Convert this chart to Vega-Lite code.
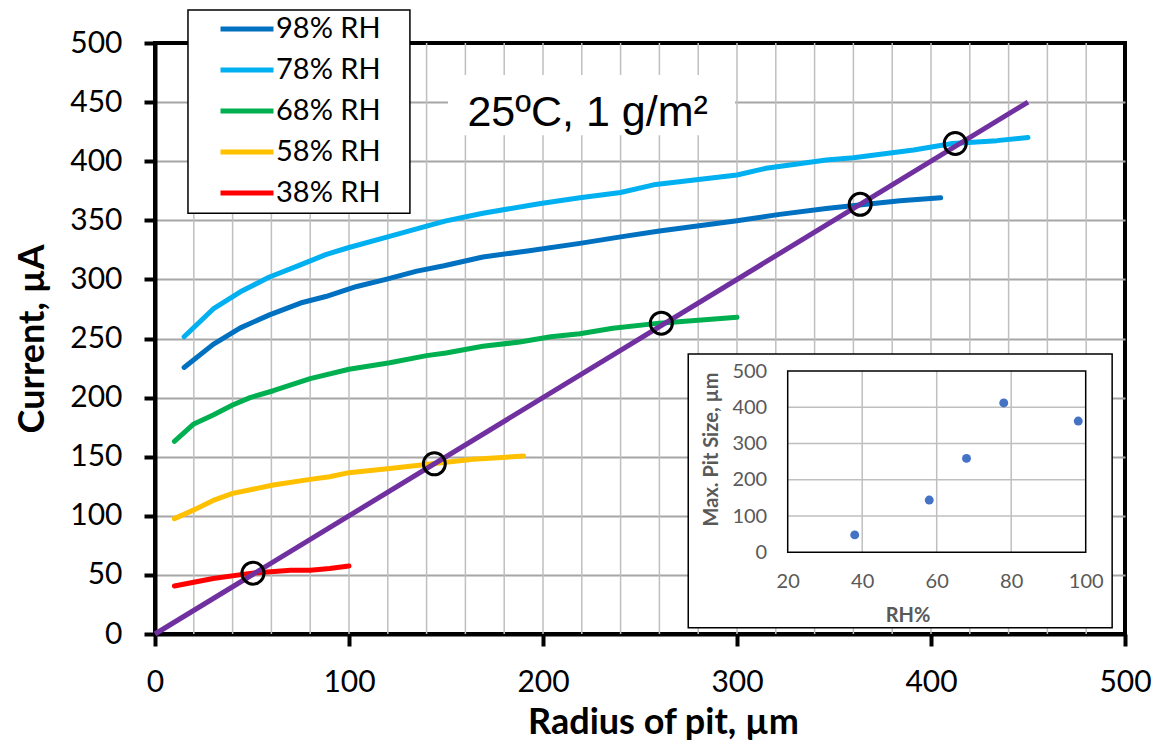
{
  "$schema": "https://vega.github.io/schema/vega-lite/v6.json",
  "width": 970,
  "height": 591,
  "autosize": {"type": "none"},
  "padding": {"left": 155, "top": 43, "right": 30, "bottom": 112},
  "background": "white",
  "config": {"view": {"stroke": "black", "strokeWidth": 4}, "font": "Lato"},
  "datasets": {
    "curves": [
      {"r": 15, "I": 225.5, "series": "98% RH"}, {"r": 30, "I": 245, "series": "98% RH"}, {"r": 44, "I": 259, "series": "98% RH"}, {"r": 59, "I": 270, "series": "98% RH"}, {"r": 75, "I": 280, "series": "98% RH"}, {"r": 88, "I": 285.5, "series": "98% RH"}, {"r": 104, "I": 294, "series": "98% RH"}, {"r": 119, "I": 300, "series": "98% RH"}, {"r": 135, "I": 307, "series": "98% RH"}, {"r": 149, "I": 311.5, "series": "98% RH"}, {"r": 169, "I": 319, "series": "98% RH"}, {"r": 192, "I": 324, "series": "98% RH"}, {"r": 219, "I": 330.5, "series": "98% RH"}, {"r": 240, "I": 336, "series": "98% RH"}, {"r": 260, "I": 341, "series": "98% RH"}, {"r": 300, "I": 349.7, "series": "98% RH"}, {"r": 322, "I": 355, "series": "98% RH"}, {"r": 346, "I": 360, "series": "98% RH"}, {"r": 363, "I": 363, "series": "98% RH"}, {"r": 384, "I": 366.6, "series": "98% RH"}, {"r": 405, "I": 369, "series": "98% RH"},
      {"r": 15, "I": 251.5, "series": "78% RH"}, {"r": 30, "I": 275, "series": "78% RH"}, {"r": 44, "I": 289.5, "series": "78% RH"}, {"r": 59, "I": 302, "series": "78% RH"}, {"r": 73, "I": 311, "series": "78% RH"}, {"r": 88, "I": 321, "series": "78% RH"}, {"r": 100, "I": 327, "series": "78% RH"}, {"r": 119, "I": 335.5, "series": "78% RH"}, {"r": 140, "I": 345, "series": "78% RH"}, {"r": 150, "I": 349.5, "series": "78% RH"}, {"r": 169, "I": 356, "series": "78% RH"}, {"r": 198, "I": 364, "series": "78% RH"}, {"r": 219, "I": 369, "series": "78% RH"}, {"r": 240, "I": 373.5, "series": "78% RH"}, {"r": 257, "I": 380, "series": "78% RH"}, {"r": 300, "I": 388.3, "series": "78% RH"}, {"r": 315, "I": 394, "series": "78% RH"}, {"r": 346, "I": 401, "series": "78% RH"}, {"r": 360, "I": 403, "series": "78% RH"}, {"r": 391, "I": 409.5, "series": "78% RH"}, {"r": 411, "I": 415, "series": "78% RH"}, {"r": 434, "I": 417.4, "series": "78% RH"}, {"r": 450, "I": 420, "series": "78% RH"},
      {"r": 10, "I": 163, "series": "68% RH"}, {"r": 20, "I": 177.7, "series": "68% RH"}, {"r": 30, "I": 185.3, "series": "68% RH"}, {"r": 40, "I": 193.7, "series": "68% RH"}, {"r": 49, "I": 200, "series": "68% RH"}, {"r": 61, "I": 205.8, "series": "68% RH"}, {"r": 80, "I": 216, "series": "68% RH"}, {"r": 100, "I": 224, "series": "68% RH"}, {"r": 121, "I": 229.5, "series": "68% RH"}, {"r": 140, "I": 235.5, "series": "68% RH"}, {"r": 150, "I": 237.8, "series": "68% RH"}, {"r": 169, "I": 243.5, "series": "68% RH"}, {"r": 188, "I": 247, "series": "68% RH"}, {"r": 204, "I": 251.5, "series": "68% RH"}, {"r": 219, "I": 254, "series": "68% RH"}, {"r": 236, "I": 258.6, "series": "68% RH"}, {"r": 260, "I": 263, "series": "68% RH"}, {"r": 300, "I": 268, "series": "68% RH"},
      {"r": 10, "I": 97.6, "series": "58% RH"}, {"r": 20, "I": 105, "series": "58% RH"}, {"r": 30, "I": 113, "series": "58% RH"}, {"r": 40, "I": 119, "series": "58% RH"}, {"r": 61, "I": 126, "series": "58% RH"}, {"r": 80, "I": 130.8, "series": "58% RH"}, {"r": 90, "I": 133, "series": "58% RH"}, {"r": 100, "I": 136.5, "series": "58% RH"}, {"r": 121, "I": 140, "series": "58% RH"}, {"r": 143, "I": 144, "series": "58% RH"}, {"r": 164, "I": 147.8, "series": "58% RH"}, {"r": 190, "I": 150.6, "series": "58% RH"},
      {"r": 10, "I": 40.6, "series": "38% RH"}, {"r": 30, "I": 47, "series": "38% RH"}, {"r": 50, "I": 51.5, "series": "38% RH"}, {"r": 70, "I": 54, "series": "38% RH"}, {"r": 80, "I": 54, "series": "38% RH"}, {"r": 90, "I": 55.5, "series": "38% RH"}, {"r": 100, "I": 57.5, "series": "38% RH"}
    ],
    "diag": [{"r": 0, "I": 0}, {"r": 450, "I": 450}],
    "pits": [{"r": 50.5, "I": 51.5}, {"r": 144, "I": 144}, {"r": 261, "I": 263}, {"r": 363.5, "I": 363.5}, {"r": 412.5, "I": 415}],
    "vgrid": [{"g": 20}, {"g": 40}, {"g": 60}, {"g": 80}, {"g": 100}, {"g": 120}, {"g": 140}, {"g": 160}, {"g": 180}, {"g": 200}, {"g": 220}, {"g": 240}, {"g": 260}, {"g": 280}, {"g": 300}, {"g": 320}, {"g": 340}, {"g": 360}, {"g": 380}, {"g": 400}, {"g": 420}, {"g": 440}, {"g": 460}, {"g": 480}],
    "inset": [{"rh": 38, "size": 48}, {"rh": 58, "size": 144}, {"rh": 68, "size": 259}, {"rh": 78, "size": 412}, {"rh": 98, "size": 362}],
    "igx": [{"g": 40}, {"g": 60}, {"g": 80}],
    "igy": [{"g": 100}, {"g": 200}, {"g": 300}, {"g": 400}],
    "one": [{}]
  },
  "layer": [
    {
      "layer": [
        {
          "data": {"name": "vgrid"},
          "mark": {"type": "rule", "color": "#bfbfbf", "strokeWidth": 1.5},
          "encoding": {
            "x": {"field": "g", "type": "quantitative", "scale": {"domain": [0, 500], "nice": false},
              "axis": {"title": "Radius of pit, µm", "values": [0, 100, 200, 300, 400, 500], "grid": false, "domainColor": "black", "domainWidth": 4, "tickColor": "black", "tickWidth": 4, "tickSize": 12, "labelFont": "Lato", "labelFontSize": 30, "labelColor": "black", "labelPadding": 21, "labelFlush": false, "labelOverlap": false, "titleFont": "Lato", "titleFontSize": 36, "titleFontWeight": "bold", "titleColor": "black", "titlePadding": 8, "titleX": 508}},
            "y": {"datum": 0, "type": "quantitative", "scale": {"domain": [0, 500], "nice": false},
              "axis": {"title": "Current, µA", "values": [0,50,100,150,200,250,300,350,400,450,500], "grid": true, "gridColor": "#a6a6a6", "gridWidth": 2, "gridOpacity": {"condition": {"test": "datum.value === 0 || datum.value === 500", "value": 0}, "value": 1}, "domainColor": "black", "domainWidth": 4, "tickColor": "black", "tickWidth": 4, "tickSize": 11, "labelFont": "Lato", "labelFontSize": 30, "labelColor": "black", "labelPadding": 22, "labelFlush": false, "labelOverlap": false, "titleFont": "Lato", "titleFontSize": 36, "titleFontWeight": "bold", "titleColor": "black", "titlePadding": 18}},
            "y2": {"datum": 500}
          }
        },
        {
          "data": {"name": "one"},
          "mark": {"type": "rect", "fill": "white", "stroke": "black", "strokeWidth": 1.5},
          "encoding": {
            "x": {"datum": 17, "type": "quantitative", "scale": {"domain": [0, 500], "nice": false}},
            "x2": {"datum": 131.4},
            "y": {"datum": 356, "type": "quantitative", "scale": {"domain": [0, 500], "nice": false}},
            "y2": {"datum": 528}
          }
        },
        {
          "data": {"name": "one"},
          "mark": {"type": "rect", "fill": "white"},
          "encoding": {
            "x": {"datum": 151, "type": "quantitative", "scale": {"domain": [0, 500], "nice": false}},
            "x2": {"datum": 299},
            "y": {"datum": 422, "type": "quantitative", "scale": {"domain": [0, 500], "nice": false}},
            "y2": {"datum": 473}
          }
        },
        {
          "data": {"name": "one"},
          "mark": {"type": "text", "text": "25ºC, 1 g/m²", "font": "Liberation Sans", "fontSize": 43, "align": "center", "baseline": "alphabetic", "color": "black"},
          "encoding": {
            "x": {"datum": 223, "type": "quantitative", "scale": {"domain": [0, 500], "nice": false}},
            "y": {"datum": 430, "type": "quantitative", "scale": {"domain": [0, 500], "nice": false}}
          }
        },
        {
          "data": {"name": "curves"},
          "mark": {"type": "line", "strokeWidth": 5, "strokeCap": "round", "strokeJoin": "round"},
          "encoding": {
            "x": {"field": "r", "type": "quantitative", "scale": {"domain": [0, 500], "nice": false}},
            "y": {"field": "I", "type": "quantitative", "scale": {"domain": [0, 500], "nice": false}},
            "color": {"field": "series", "type": "nominal",
              "scale": {"domain": ["98% RH", "78% RH", "68% RH", "58% RH", "38% RH"], "range": ["#0070c0", "#00b0f0", "#00b050", "#ffc000", "#ff0000"]},
              "legend": {"orient": "none", "legendX": 63, "legendY": -29, "title": null, "symbolType": "stroke", "symbolSize": 2809, "symbolStrokeWidth": 5, "clipHeight": 30, "rowPadding": 11, "padding": 0, "labelFont": "Lato", "labelFontSize": 29, "labelColor": "black", "labelOffset": 0, "symbolOffset": 0}},
            "detail": {"field": "series"}
          }
        },
        {
          "data": {"name": "diag"},
          "mark": {"type": "line", "strokeWidth": 5, "color": "#7030a0"},
          "encoding": {
            "x": {"field": "r", "type": "quantitative", "scale": {"domain": [0, 500], "nice": false}},
            "y": {"field": "I", "type": "quantitative", "scale": {"domain": [0, 500], "nice": false}}
          }
        },
        {
          "data": {"name": "pits"},
          "mark": {"type": "point", "shape": "circle", "filled": false, "stroke": "black", "strokeWidth": 3, "size": 484, "opacity": 1},
          "encoding": {
            "x": {"field": "r", "type": "quantitative", "scale": {"domain": [0, 500], "nice": false}},
            "y": {"field": "I", "type": "quantitative", "scale": {"domain": [0, 500], "nice": false}}
          }
        }
      ]
    },
    {
      "layer": [
        {
          "data": {"name": "one"},
          "mark": {"type": "rect", "fill": "white", "stroke": "black", "strokeWidth": 1.5},
          "encoding": {
            "x": {"datum": -6.7, "type": "quantitative", "scale": {"domain": [20, 100], "range": [632.7, 930.7], "nice": false, "zero": false},
              "axis": {"title": "RH%", "orient": "bottom", "offset": -81.7, "zindex": 2, "values": [20, 40, 60, 80, 100], "domain": false, "ticks": false, "tickSize": 0, "grid": false, "labelFont": "Lato", "labelFontSize": 20, "labelColor": "#595959", "labelPadding": 19, "labelFlush": false, "labelOverlap": false, "titleFont": "Lato", "titleFontSize": 20, "titleFontWeight": "bold", "titleColor": "#595959", "titlePadding": 14, "titleX": 752.5}},
            "x2": {"datum": 107.1},
            "y": {"datum": -207.9, "type": "quantitative", "scale": {"domain": [0, 500], "range": [509.3, 328], "nice": false},
              "axis": {"title": "Max. Pit Size, µm", "orient": "left", "offset": -632.7, "zindex": 2, "values": [0, 100, 200, 300, 400, 500], "domain": false, "ticks": false, "tickSize": 0, "grid": false, "labelFont": "Lato", "labelFontSize": 20, "labelColor": "#595959", "labelPadding": 21, "labelFlush": false, "labelOverlap": false, "titleFont": "Lato", "titleFontSize": 20, "titleFontWeight": "bold", "titleColor": "#595959", "titlePadding": 10, "titleY": 406}},
            "y2": {"datum": 546.9}
          }
        },
        {
          "data": {"name": "igx"},
          "mark": {"type": "rule", "color": "#bfbfbf", "strokeWidth": 1.5},
          "encoding": {
            "x": {"field": "g", "type": "quantitative", "scale": {"domain": [20, 100], "range": [632.7, 930.7], "nice": false, "zero": false}},
            "y": {"datum": 0, "type": "quantitative", "scale": {"domain": [0, 500], "range": [509.3, 328], "nice": false}},
            "y2": {"datum": 500}
          }
        },
        {
          "data": {"name": "igy"},
          "mark": {"type": "rule", "color": "#bfbfbf", "strokeWidth": 1.5},
          "encoding": {
            "y": {"field": "g", "type": "quantitative", "scale": {"domain": [0, 500], "range": [509.3, 328], "nice": false}},
            "x": {"datum": 20, "type": "quantitative", "scale": {"domain": [20, 100], "range": [632.7, 930.7], "nice": false, "zero": false}},
            "x2": {"datum": 100}
          }
        },
        {
          "data": {"name": "one"},
          "mark": {"type": "rect", "fillOpacity": 0, "stroke": "black", "strokeWidth": 1.5},
          "encoding": {
            "x": {"datum": 20, "type": "quantitative", "scale": {"domain": [20, 100], "range": [632.7, 930.7], "nice": false, "zero": false}},
            "x2": {"datum": 100},
            "y": {"datum": 0, "type": "quantitative", "scale": {"domain": [0, 500], "range": [509.3, 328], "nice": false}},
            "y2": {"datum": 500}
          }
        },
        {
          "data": {"name": "inset"},
          "mark": {"type": "point", "shape": "circle", "filled": true, "color": "#4472c4", "size": 80, "opacity": 1},
          "encoding": {
            "x": {"field": "rh", "type": "quantitative", "scale": {"domain": [20, 100], "range": [632.7, 930.7], "nice": false, "zero": false}},
            "y": {"field": "size", "type": "quantitative", "scale": {"domain": [0, 500], "range": [509.3, 328], "nice": false}}
          }
        }
      ]
    }
  ],
  "resolve": {"scale": {"x": "independent", "y": "independent"}, "axis": {"x": "independent", "y": "independent"}}
}
